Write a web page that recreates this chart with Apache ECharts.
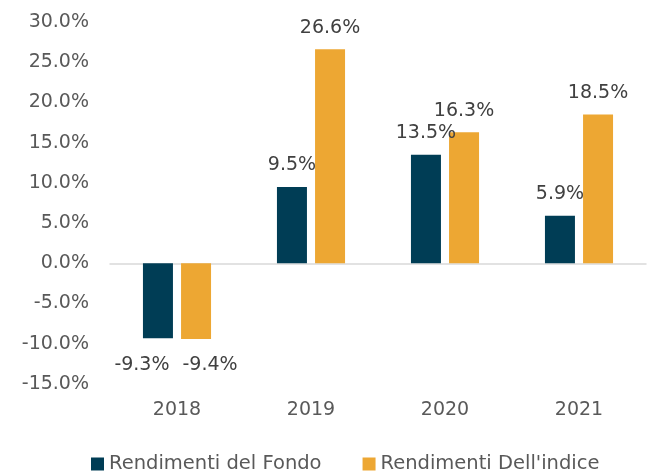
<!DOCTYPE html>
<html>
  <head>
    <meta charset="utf-8" />
    <title>Rendimenti</title>
    <style>
      html, body { margin: 0; padding: 0; background: #fff; }
      #chart { width: 652px; height: 471px; }
    </style>
  </head>
  <body>
    <div id="chart"></div>
    <script src="https://cdn.jsdelivr.net/npm/echarts@6/dist/echarts.min.js"></script>
    <script>
      var years = ["2018", "2019", "2020", "2021"];
      var seriesNames = ["Rendimenti del Fondo", "Rendimenti Dell'indice"];
      var fondo = [-9.3, 9.5, 13.5, 5.9];
      var indice = [-9.4, 26.6, 16.3, 18.5];

      var font = "DejaVu Sans, Verdana, sans-serif";
      var colors = ["#003d55", "#eda733"];

      // first-year labels collide, push them apart like the original
      function makeData(values, shift) {
        return values.map(function (v, i) {
          var item = { value: v };
          if (v < 0) {
            item.label = { position: "bottom", distance: 17, offset: [shift, 0] };
          }
          return item;
        });
      }

      function makeSeries(name, values, color, shift) {
        return {
          name: name,
          type: "bar",
          barWidth: 30,
          barGap: "27%",
          itemStyle: { color: color },
          label: {
            show: true,
            position: "top",
            distance: 12,
            color: "#404040",
            fontFamily: font,
            fontSize: 19,
            formatter: function (p) {
              return p.value.toFixed(1) + "%";
            },
          },
          data: makeData(values, shift),
        };
      }

      var myChart = echarts.init(document.getElementById("chart"));
      myChart.setOption({
        animation: false,
        grid: { left: 110, right: 6, top: 22, bottom: 87 },
        legend: {
          data: seriesNames,
          left: 86,
          top: 449,
          icon: "rect",
          itemWidth: 13,
          itemHeight: 13,
          itemGap: 41,
          textStyle: { color: "#595959", fontFamily: font, fontSize: 19.5 },
        },
        xAxis: {
          type: "category",
          data: years,
          axisTick: { show: false },
          axisLine: { lineStyle: { color: "#d9d9d9", width: 1.5 } },
          axisLabel: { color: "#595959", fontFamily: font, fontSize: 19, margin: 17 },
        },
        yAxis: {
          type: "value",
          min: -15,
          max: 30,
          interval: 5,
          splitLine: { show: false },
          axisLine: { show: false },
          axisTick: { show: false },
          axisLabel: {
            color: "#595959",
            fontFamily: font,
            fontSize: 19,
            margin: 21,
            formatter: function (v) {
              return v.toFixed(1) + "%";
            },
          },
        },
        series: [
          makeSeries(seriesNames[0], fondo, colors[0], -16),
          makeSeries(seriesNames[1], indice, colors[1], 14),
        ],
      });
    </script>
  </body>
</html>
